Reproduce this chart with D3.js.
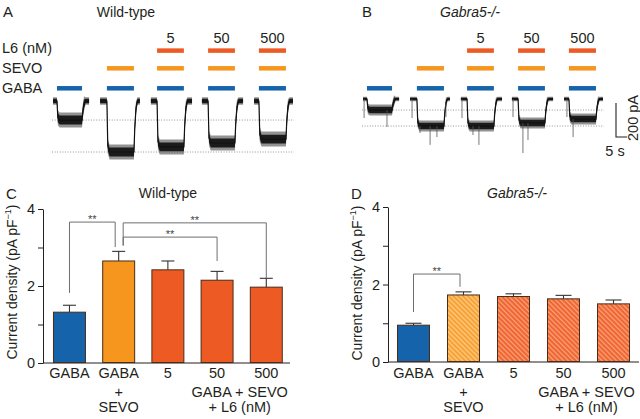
<!DOCTYPE html>
<html><head><meta charset="utf-8">
<script src="https://cdn.jsdelivr.net/npm/d3@7"></script>
<style>
body{margin:0;background:#fff}
svg{display:block}
text{font-family:"Liberation Sans",Arial,Helvetica,sans-serif;fill:#231f20}
</style>
</head><body>
<svg id="fig" width="640" height="419"></svg>
<script>
// ---------------- data ----------------
const categories = ["GABA", "GABA + SEVO", "L6 5", "L6 50", "L6 500"];
const xTopLabels = ["GABA", "GABA", "5", "50", "500"];
const wtMeans = [1.32, 2.65, 2.42, 2.15, 1.97];
const wtErr   = [0.18, 0.25, 0.23, 0.23, 0.23];
const koMeans = [0.95, 1.73, 1.69, 1.63, 1.50];
const koErr   = [0.05, 0.08, 0.07, 0.09, 0.10];
const yTickValues = [0, 1, 2, 3, 4];
const yTickLabels = [0, 2, 4];
// brackets: a,b = category indices; level, aEnd, bEnd in current-density units
const wtBrackets = [
  {a: 0, b: 1, level: 3.66, aEnd: 1.82, bEnd: 3.01, label: "**"},
  {a: 1, b: 4, level: 3.64, aEnd: 3.05, bEnd: 2.20, label: "**"},
  {a: 1, b: 3, level: 3.27, aEnd: 3.05, bEnd: 2.65, label: "**"}
];
const koBrackets = [
  {a: 0, b: 1, level: 2.27, aEnd: 1.29, bEnd: 1.94, label: "**"}
];
// traces: sweep windows in seconds [start, drug on, drug off, end]
const sweepTimes = [
  [0, 1.8, 13.2, 16.4],
  [21.4, 24.5, 36.8, 39.5],
  [44.5, 47.3, 59.5, 63.2],
  [67.7, 70.5, 82.7, 86.4],
  [91.4, 93.6, 105.9, 109.1]
];
const wtAmps = [-112, -300, -270, -247, -224];   // pA
const koAmps = [-65, -159, -159, -141, -118];    // pA
// Gabra5-/- spikes: [time s, peak pA]
const koSpikes = [[0.5,-112],[10.9,-165],[22.3,-112],[25.9,-200],[30.5,-270],[33.6,-224],[37.7,-106],
  [45,-112],[50,-212],[52.7,-270],[68.2,-106],[72.7,-318],[75,-241],[92.7,-106],[95.5,-224]];
const gabaSweeps = [0, 1, 2, 3, 4];
const sevoSweeps = [1, 2, 3, 4];
const l6Sweeps = [2, 3, 4];
const l6Doses = ["5", "50", "500"];
const scaleBarPA = 200, scaleBarS = 5;

// ---------------- styles ----------------
const ink = "#231f20";
const cBlue = "#1563aa", cOrange = "#f6961f", cRed = "#ee5a24";
const barColors = [cBlue, cOrange, cRed, cRed, cRed];

const svg = d3.select("#fig");
const defs = svg.append("defs");
function hatch(id, base, stripe) {
  const p = defs.append("pattern").attr("id", id).attr("patternUnits", "userSpaceOnUse")
    .attr("width", 3.4).attr("height", 3.4).attr("patternTransform", "rotate(-45)");
  p.append("rect").attr("width", 3.4).attr("height", 3.4).attr("fill", base);
  p.append("rect").attr("width", 1.3).attr("height", 3.4).attr("fill", stripe);
}
hatch("hOrange", "#f7a035", "#fccb80");
hatch("hRed", "#f0652f", "#f8a07a");
const hatchFills = [cBlue, "url(#hOrange)", "url(#hRed)", "url(#hRed)", "url(#hRed)"];

function text(t, x, y, opts = {}) {
  const e = svg.append("text").attr("x", x).attr("y", y).text(t)
    .attr("font-size", opts.size || 14).attr("text-anchor", opts.anchor || "start");
  if (opts.italic) e.attr("font-style", "italic");
  if (opts.fill) e.style("fill", opts.fill);
  if (opts.rotate) e.attr("transform", `rotate(${opts.rotate},${x},${y})`);
  return e;
}

// panel letters + titles
text("A", 3, 17, {size: 15});
text("B", 362, 17, {size: 15});
text("C", 6, 199, {size: 15});
text("D", 351, 199, {size: 15});
text("Wild-type", 126, 17, {anchor: "middle"});
text("Gabra5-/-", 470, 17, {anchor: "middle", italic: true});
text("Wild-type", 168, 198, {anchor: "middle"});
text("Gabra5-/-", 517, 198, {anchor: "middle", italic: true});

// ---------------- traces ----------------
function sweepPoints(times, a) {
  const [t0, ton, toff, t1] = times;
  return [[t0, 0], [ton, 0], [ton + 0.4, a * 0.88], [ton + 1.2, a], [toff, a],
          [toff + 0.35, a * 0.55], [toff + 0.9, a * 0.15], [toff + 1.6, 0], [t1, 0]];
}
function drawTraces(xs, ys, amps, nBase, nPlat, spikes) {
  const g = svg.append("g");
  // dotted reference lines
  [amps[0], amps[1]].forEach(v => {
    g.append("line").attr("x1", xs.range()[0] - 1).attr("x2", xs.range()[1] + 1)
      .attr("y1", ys(v)).attr("y2", ys(v))
      .attr("stroke", "#8a8a8a").attr("stroke-width", 0.9).attr("stroke-dasharray", "1,1.6");
  });
  sweepTimes.forEach((times, i) => {
    const pts = sweepPoints(times, amps[i]);
    const noise = p => (p[1] === 0 ? nBase : nPlat);
    const band = k => d3.area().x(p => xs(p[0]))
      .y0(p => ys(p[1] + noise(p) * k)).y1(p => ys(p[1] - noise(p) * k));
    g.append("path").attr("d", band(1.7)(pts)).attr("fill", "#3a3a3a").attr("opacity", 0.55);
    g.append("path").attr("d", band(1)(pts)).attr("fill", "#1b1b1b");
    g.append("path").attr("d", d3.line().x(p => xs(p[0])).y(p => ys(p[1]))(pts))
      .attr("fill", "none").attr("stroke", "#111").attr("stroke-width", 1.2);
  });
  if (spikes) {
    spikes.forEach(([t, v]) => {
      const i = sweepTimes.findIndex(s => t >= s[0] && t <= s[3]);
      const pts = sweepPoints(sweepTimes[i], amps[i]);
      const lvl = d3.scaleLinear().domain(pts.map(p => p[0])).range(pts.map(p => p[1]))(t);
      g.append("line").attr("x1", xs(t)).attr("x2", xs(t)).attr("y1", ys(lvl)).attr("y2", ys(v))
        .attr("stroke", "#555").attr("stroke-width", 0.8);
    });
  }
  // protocol bars
  const rows = [[gabaSweeps, cBlue, 88.3], [sevoSweeps, cOrange, 68.3], [l6Sweeps, cRed, 50.6]];
  rows.forEach(([idx, col, y]) => {
    idx.forEach(i => {
      g.append("line").attr("x1", xs(sweepTimes[i][1])).attr("x2", xs(sweepTimes[i][2]))
        .attr("y1", y).attr("y2", y).attr("stroke", col).attr("stroke-width", 4.5);
    });
  });
  l6Sweeps.forEach((i, k) => {
    text(l6Doses[k], (xs(sweepTimes[i][1]) + xs(sweepTimes[i][2])) / 2, 43, {anchor: "middle", size: 14.5});
  });
}
const wtX = d3.scaleLinear().domain([0, 109.1]).range([53, 293]);
const wtY = d3.scaleLinear().domain([0, -200]).range([101, 135]);
const koX = d3.scaleLinear().domain([0, 109.1]).range([363, 603]);
const koY = d3.scaleLinear().domain([0, -200]).range([99, 133]);
drawTraces(wtX, wtY, wtAmps, 13, 26, null);
drawTraces(koX, koY, koAmps, 8, 19, koSpikes);

text("L6 (nM)", 2, 53, {size: 14.5});
text("SEVO", 2, 73, {size: 14.5});
text("GABA", 2, 93, {size: 14.5});

// scale bar
const sbX = 616, sbY = 137;
const sbH = koY(-scaleBarPA) - koY(0), sbW = koX(scaleBarS) - koX(0);
svg.append("path").attr("d", `M${sbX},${sbY - sbH}V${sbY}H${sbX + sbW}`)
  .attr("fill", "none").attr("stroke", ink).attr("stroke-width", 1.1);
text(scaleBarPA + " pA", 638, 118, {anchor: "middle", rotate: -90, size: 14.5});
text(scaleBarS + " s", 615, 156, {anchor: "middle", size: 14.5});

// ---------------- bar panels ----------------
function barPanel(x, y, means, errs, fills, brackets, capW, titleX, titleY) {
  const g = svg.append("g");
  const bw = x.bandwidth();
  // axes
  const axL = d3.axisLeft(y).tickValues(yTickValues).tickSize(5).tickSizeOuter(0).tickPadding(3)
    .tickFormat(d => yTickLabels.includes(d) ? d : "");
  const ga = g.append("g").attr("transform", `translate(${x.range()[0]},0)`).call(axL);
  ga.selectAll("text").attr("font-size", 14.5).attr("font-family", null).style("fill", ink);
  ga.selectAll("line,path").attr("stroke", ink).attr("stroke-width", 1);
  g.append("line").attr("x1", x.range()[0]).attr("x2", x.range()[1])
    .attr("y1", y(0)).attr("y2", y(0)).attr("stroke", ink).attr("stroke-width", 1);
  // error bars
  categories.forEach((c, i) => {
    const cx = x(c) + bw / 2;
    g.append("line").attr("x1", cx).attr("x2", cx).attr("y1", y(means[i])).attr("y2", y(means[i] + errs[i]))
      .attr("stroke", "#333").attr("stroke-width", 1.1);
    g.append("line").attr("x1", cx - capW / 2).attr("x2", cx + capW / 2)
      .attr("y1", y(means[i] + errs[i])).attr("y2", y(means[i] + errs[i]))
      .attr("stroke", "#333").attr("stroke-width", 1.1);
  });
  // bars
  g.selectAll("rect.bar").data(means).join("rect").attr("class", "bar")
    .attr("x", (d, i) => x(categories[i]) + 0.5).attr("width", bw - 1)
    .attr("y", d => y(d)).attr("height", d => y(0) - y(d) - 0.5)
    .attr("fill", (d, i) => fills[i]).attr("stroke", "#4a2c17").attr("stroke-width", 1);
  // brackets
  const ex = (idx, other) => {
    const c = x(categories[idx]) + bw / 2;
    if (idx === 1) return c + (other > idx ? 4.5 : -3.5);
    return c;
  };
  brackets.forEach(b => {
    const xa = ex(b.a, b.b), xb = ex(b.b, b.a), yl = y(b.level);
    g.append("path").attr("d", `M${xa},${y(b.aEnd)}V${yl}H${xb}V${y(b.bEnd)}`)
      .attr("fill", "none").attr("stroke", "#6d6e71").attr("stroke-width", 1);
    text(b.label, (xa + xb) / 2, yl + 1, {anchor: "middle", size: 11, fill: "#444"});
  });
  // x labels
  const fs = 14.5;
  categories.forEach((c, i) => text(xTopLabels[i], x(c) + bw / 2, 378, {anchor: "middle", size: fs}));
  const sx = x(categories[1]) + bw / 2;
  text("+", sx, 397, {anchor: "middle", size: fs});
  text("SEVO", sx, 412, {anchor: "middle", size: fs});
  const gx = (x(categories[3]) + x(categories[4])) / 2 + bw / 2 - 2;
  text("GABA + SEVO", gx, 397, {anchor: "middle", size: fs});
  text("+ L6 (nM)", gx, 412, {anchor: "middle", size: fs});
  // y title
  const t = svg.append("text").attr("font-size", 14).attr("text-anchor", "middle")
    .attr("transform", `translate(${titleX},${titleY}) rotate(-90)`);
  t.append("tspan").text("Current density (pA pF");
  t.append("tspan").text("\u22121").attr("font-size", 9).attr("dy", -6);
  t.append("tspan").text(")").attr("dy", 6);
}

const xC = d3.scaleBand().domain(categories).range([43, 290]).paddingInner(0.33).paddingOuter(0.175).align(0.58);
const yC = d3.scaleLinear().domain([0, 4]).range([363, 209]);
barPanel(xC, yC, wtMeans, wtErr, barColors, wtBrackets, 13, 17, 282);

const xD = d3.scaleBand().domain(categories).range([388, 639]).paddingInner(0.34).paddingOuter(0.18).align(0.5);
const yD = d3.scaleLinear().domain([0, 4]).range([362, 207]);
barPanel(xD, yD, koMeans, koErr, hatchFills, koBrackets, 16, 362, 283);
</script>
</body></html>
